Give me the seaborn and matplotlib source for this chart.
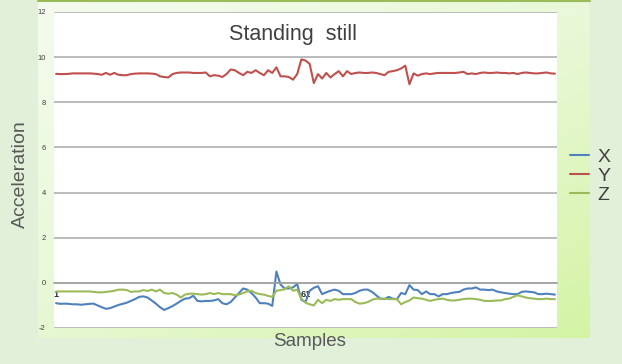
import numpy as np
import pandas as pd
import matplotlib
matplotlib.use("Agg")
import matplotlib.pyplot as plt
from matplotlib.colors import LinearSegmentedColormap
import seaborn as sns

# readings, 121 samples per axis
x_acc = [-0.9, -0.93, -0.92, -0.93, -0.95, -0.95, -0.97, -0.95, -0.93, -0.92, -1.0, -1.08,
         -1.15, -1.12, -1.05, -0.98,
         -0.93, -0.88, -0.8, -0.72, -0.62,
         -0.6, -0.65,
         -0.78, -0.92, -1.08, -1.2,
         -1.12, -1.03, -0.92, -0.8, -0.7,
         -0.68, -0.57,
         -0.8, -0.82, -0.8, -0.8, -0.78, -0.72,
         -0.9, -0.95, -0.85,
         -0.65, -0.45, -0.25, -0.3,
         -0.45, -0.65, -0.9, -0.9, -0.92, -1.02,
         0.5, -0.08, -0.25, -0.25, -0.2, -0.05,
         -0.75, -0.85, -0.35, -0.22,
         -0.15, -0.5, -0.42, -0.35, -0.3,
         -0.35, -0.5, -0.5, -0.5, -0.45, -0.35, -0.3,
         -0.3, -0.4, -0.55, -0.7, -0.72, -0.62, -0.7, -0.72, -0.45,
         -0.5, -0.1, -0.3, -0.32, -0.5, -0.38,
         -0.5, -0.5, -0.6, -0.5, -0.5, -0.45, -0.42, -0.4, -0.3, -0.25,
         -0.25, -0.2, -0.3, -0.3, -0.32, -0.3, -0.38, -0.42, -0.45, -0.48,
         -0.5, -0.5, -0.4, -0.38, -0.4, -0.42, -0.5, -0.5, -0.48, -0.5, -0.52]

y_acc = [9.26, 9.25, 9.25, 9.26, 9.28, 9.28, 9.28, 9.28, 9.28, 9.27, 9.25, 9.22,
         9.3, 9.22, 9.3, 9.22, 9.2, 9.2,
         9.25, 9.27, 9.28, 9.28, 9.28, 9.27, 9.25,
         9.15, 9.12, 9.1, 9.25,
         9.3, 9.32, 9.32, 9.32, 9.3, 9.3, 9.3, 9.32,
         9.15, 9.2, 9.18, 9.12, 9.25, 9.45, 9.42, 9.3, 9.2, 9.35, 9.3, 9.42,
         9.3, 9.2, 9.42, 9.3, 9.55, 9.15, 9.15, 9.12, 9.0, 9.25, 9.9, 9.85,
         9.7, 8.85, 9.25, 9.05, 9.3, 9.1, 9.25, 9.38, 9.15, 9.38, 9.25, 9.3, 9.32,
         9.3, 9.3, 9.32, 9.3, 9.25, 9.2, 9.35, 9.38, 9.42, 9.5, 9.62, 8.8,
         9.28, 9.18, 9.25, 9.28, 9.25, 9.28,
         9.3, 9.3, 9.3, 9.3, 9.3, 9.32,
         9.35, 9.25, 9.28, 9.25, 9.3, 9.32, 9.3, 9.3, 9.32, 9.3, 9.3, 9.28,
         9.3, 9.25, 9.3, 9.32, 9.3, 9.28, 9.28, 9.3, 9.32, 9.28, 9.27]

z_acc = [-0.38, -0.38, -0.38, -0.38, -0.38, -0.38, -0.38, -0.38, -0.38, -0.4, -0.42,
         -0.42, -0.4, -0.38,
         -0.35, -0.3, -0.3, -0.32,
         -0.4, -0.38, -0.38, -0.32,
         -0.36, -0.3, -0.38, -0.3,
         -0.45, -0.48, -0.45, -0.52, -0.65,
         -0.52, -0.48, -0.48, -0.5,
         -0.52, -0.5, -0.45, -0.5, -0.45,
         -0.5, -0.5, -0.5, -0.55, -0.52,
         -0.45, -0.38, -0.35, -0.45, -0.5,
         -0.52, -0.58, -0.62, -0.35,
         -0.32, -0.28, -0.15, -0.35, -0.3,
         -0.7, -0.88, -0.95, -1.0,
         -0.75, -0.9, -0.75, -0.8, -0.72,
         -0.75, -0.72, -0.72, -0.72, -0.85,
         -0.92, -0.9, -0.85, -0.75, -0.7,
         -0.7, -0.7, -0.72, -0.72, -0.72,
         -0.95, -0.85, -0.78, -0.65, -0.68,
         -0.7, -0.75, -0.8, -0.75, -0.72,
         -0.7, -0.75, -0.78, -0.78, -0.75,
         -0.72, -0.7, -0.7, -0.72, -0.75,
         -0.8, -0.8, -0.8, -0.78, -0.78,
         -0.72, -0.7, -0.62, -0.55, -0.6,
         -0.65, -0.68, -0.7, -0.72, -0.72, -0.7, -0.72, -0.72]

samples = list(range(1, len(x_acc) + 1))
axis_names = ["X", "Y", "Z"]
axis_colors = ["#4f81bd", "#c0504d", "#9bbb59"]
y_ticks = [-2, 0, 2, 4, 6, 8, 10, 12]
x_labels = {1: "1", 61: "61"}

df = pd.DataFrame({"Sample": samples * 3,
                   "Acceleration": x_acc + y_acc + z_acc,
                   "Axis": ["X"] * len(x_acc) + ["Y"] * len(y_acc) + ["Z"] * len(z_acc)})

sns.set_style("white")
plt.rcParams["font.family"] = ["Liberation Sans", "DejaVu Sans"]

W, H = 622, 364
fig = plt.figure(figsize=(W / 100, H / 100), dpi=100)
fig.patch.set_facecolor("#e2efd9")

# chart area gradient behind the plot
bg = fig.add_axes([38 / W, (H - 338) / H, (590 - 38) / W, 338 / H])
gx, gy = np.meshgrid(np.linspace(0, 1, 200), np.linspace(0, 1, 200))
grad = np.clip(0.55 * gy + 0.45 * gx, 0, 1)
cmap = LinearSegmentedColormap.from_list("bg", ["#f4fbee", "#e8f8d6", "#d4f4a4"])
bg.imshow(grad, cmap=cmap, aspect="auto", origin="upper", extent=[0, 1, 0, 1])
bg.axis("off")
bg.zorder = 0
fig.add_artist(plt.Line2D([38 / W, 590 / W], [1 - 1 / H, 1 - 1 / H], color="#9bbb59", lw=1.5))

ax = fig.add_axes([54 / W, (H - 328) / H, (557 - 54) / W, (328 - 12) / H])
ax.set_facecolor("white")
ax.zorder = 1

sns.lineplot(data=df, x="Sample", y="Acceleration", hue="Axis", hue_order=axis_names,
             palette=axis_colors, linewidth=1.5, ax=ax, legend=True)

ax.set_xlim(0.5, len(samples) + 0.5)
ax.set_ylim(-2, 12)
ax.set_yticks(y_ticks)
ax.set_yticklabels([str(v) for v in y_ticks], fontsize=5.5, color="#404040")
ax.yaxis.grid(True, color="#a8a8a8", linewidth=1.1)
ax.set_axisbelow(True)
ax.tick_params(axis="y", length=0, pad=6)

for s in ["top", "right", "left"]:
    ax.spines[s].set_visible(False)
ax.spines["bottom"].set_position(("data", 0))
ax.spines["bottom"].set_color("#a0a0a0")
ax.spines["bottom"].set_linewidth(1.1)

ax.set_xticks(np.arange(0.5, len(samples), 12))
ax.set_xticklabels([])
ax.tick_params(axis="x", which="major", length=3, width=1, color="#a0a0a0", direction="out")
ax.set_xticks(list(x_labels.keys()), minor=True)
ax.set_xticklabels(list(x_labels.values()), minor=True, fontsize=6.5,
                   fontweight="bold", color="#303030")
ax.tick_params(axis="x", which="minor", length=0, pad=5)

ax.set_xlabel("")
ax.set_ylabel("")
ax.text(0.475, 0.93, "Standing  still", transform=ax.transAxes, ha="center", va="center",
        fontsize=15.5, color="#404040")
fig.text(20 / W, 1 - 174 / H, "Acceleration", rotation=90, ha="center", va="center",
         fontsize=14, color="#595959")
fig.text(310 / W, 1 - 341 / H, "Samples", ha="center", va="center",
         fontsize=13.5, color="#595959")

handles, labels = ax.get_legend_handles_labels()
ax.get_legend().remove()
leg = fig.legend(handles, labels, loc="center left", bbox_to_anchor=(570 / W, 1 - 176 / H),
                 frameon=False, fontsize=14, handlelength=1.0, handletextpad=0.4,
                 labelspacing=0.08, borderpad=0, borderaxespad=0)
for t in leg.get_texts():
    t.set_color("#404040")

fig.savefig("out.png", dpi=100, facecolor=fig.get_facecolor())
